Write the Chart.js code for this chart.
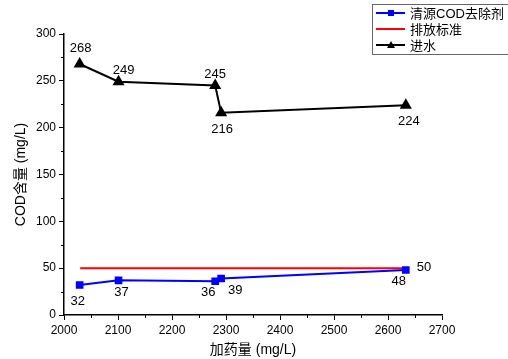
<!DOCTYPE html>
<html><head><meta charset="utf-8">
<script src="https://cdn.jsdelivr.net/npm/chart.js@4/dist/chart.umd.min.js"></script>
<style>html,body{margin:0;padding:0;background:#fff}#w{width:508px;height:359px}</style>
</head><body><div id="w"><canvas id="c"></canvas></div>
<script>
const dosage = [2029, 2101, 2280, 2291, 2633];
const influent = [268, 249, 245, 216, 224];
const removal = [32, 37, 36, 39, 48];
const standardX = [2030, 2635];
const standardY = [50, 50];
const xTicks = [2000, 2100, 2200, 2300, 2400, 2500, 2600, 2700];
const yTicks = [0, 50, 100, 150, 200, 250, 300];
const seriesNames = ['清源COD去除剂', '排放标准', '进水'];

const FONT = '"Liberation Sans", Arial, "Noto Sans CJK SC", sans-serif';
const CJK = '"Liberation Sans", "Noto Sans CJK SC", sans-serif';

// label offsets (dx, dy) per point, styling only
const labelOffsets = [
  [[-2,16],[3,12],[-7,11],[14,12],[-7,11]],
  [null,[17,-1]],
  [[1,-16],[5,-11],[0,-11],[1,17],[3,16]]
];

const pts = (xs, ys) => xs.map((x,i)=>({x, y: ys[i]}));

const minorTicks = {
  id:'minorTicks',
  afterDraw(chart){
    const ctx=chart.ctx, xs=chart.scales.x, ys=chart.scales.y;
    ctx.save(); ctx.strokeStyle='#000'; ctx.lineWidth=1;
    for(let i=0;i<xTicks.length-1;i++){
      const v=(xTicks[i]+xTicks[i+1])/2, p=Math.round(xs.getPixelForValue(v))+0.5;
      ctx.beginPath(); ctx.moveTo(p, ys.bottom); ctx.lineTo(p, ys.bottom+3); ctx.stroke();
    }
    for(let i=0;i<yTicks.length-1;i++){
      const v=(yTicks[i]+yTicks[i+1])/2, p=Math.round(ys.getPixelForValue(v))+0.5;
      ctx.beginPath(); ctx.moveTo(xs.left, p); ctx.lineTo(xs.left-3, p); ctx.stroke();
    }
    ctx.restore();
  }
};

const valueLabels = {
  id:'valueLabels',
  afterDatasetsDraw(chart){
    const ctx=chart.ctx;
    ctx.save(); ctx.fillStyle='#000'; ctx.font='13px '+FONT;
    ctx.textAlign='center'; ctx.textBaseline='middle';
    chart.data.datasets.forEach((ds,di)=>{
      const meta=chart.getDatasetMeta(di);
      meta.data.forEach((el,i)=>{
        const off=labelOffsets[di][i]; if(!off) return;
        ctx.fillText(String(ds.data[i].y), el.x+off[0], el.y+off[1]);
      });
    });
    ctx.restore();
  }
};

const customLegend = {
  id:'customLegend',
  afterDraw(chart){
    const ctx=chart.ctx;
    const x0=372, y0=4, w=140, h=50;
    ctx.save();
    ctx.strokeStyle='#666'; ctx.lineWidth=1;
    ctx.strokeRect(x0+0.5,y0+0.5,w,h);
    ctx.font='13px '+CJK; ctx.textBaseline='middle'; ctx.textAlign='left';
    chart.data.datasets.forEach((ds,i)=>{
      const y=y0+9+i*16;
      ctx.strokeStyle=ds.borderColor; ctx.lineWidth=2;
      ctx.beginPath(); ctx.moveTo(x0+4,y); ctx.lineTo(x0+33,y); ctx.stroke();
      ctx.fillStyle=ds.borderColor;
      if(ds.pointStyle==='rect'){ ctx.fillRect(x0+16,y-3,6,6); }
      else if(ds.pointStyle==='triangle'){
        ctx.beginPath(); ctx.moveTo(x0+19,y-4); ctx.lineTo(x0+23,y+3); ctx.lineTo(x0+15,y+3); ctx.closePath(); ctx.fill();
      }
      ctx.fillStyle='#000';
      ctx.fillText(ds.label, x0+38, y+1);
    });
    ctx.restore();
  }
};

new Chart(document.getElementById('c'), {
  type:'line',
  data:{datasets:[
    {label:seriesNames[0], data:pts(dosage, removal), borderColor:'#0000ff', backgroundColor:'#0000ff',
     borderWidth:2, pointStyle:'rect', pointRadius:4, pointHoverRadius:4},
    {label:seriesNames[1], data:pts(standardX, standardY), borderColor:'#ff0000', backgroundColor:'#ff0000',
     borderWidth:2, pointRadius:0, pointStyle:'line'},
    {label:seriesNames[2], data:pts(dosage, influent), borderColor:'#000000', backgroundColor:'#000000',
     borderWidth:2, pointStyle:'triangle', pointRadius:5, pointHoverRadius:5}
  ]},
  options:{
    responsive:true, maintainAspectRatio:false, animation:false,
    layout:{padding:{top:34, right:66, left:0, bottom:0}},
    plugins:{legend:{display:false}, tooltip:{enabled:false}},
    scales:{
      x:{type:'linear', min:2000, max:2700,
        afterBuildTicks:s=>{s.ticks=xTicks.map(v=>({value:v}));},
        afterFit:s=>{s.height=44;},
        ticks:{color:'#000', font:{family:FONT, size:12}, padding:3, maxRotation:0, callback:v=>String(v)},
        grid:{drawOnChartArea:false, drawTicks:true, tickLength:5, color:'#000'},
        border:{display:true, color:'#000', width:1.5},
        title:{display:true, text:'加药量 (mg/L)', color:'#000', font:{family:CJK, size:14}, padding:{top:4, bottom:0}}
      },
      y:{type:'linear', min:0, max:300,
        afterBuildTicks:s=>{s.ticks=yTicks.map(v=>({value:v}));},
        afterFit:s=>{s.width=64;},
        ticks:{color:'#000', font:{family:FONT, size:12}, padding:3, callback:v=>String(v)},
        grid:{drawOnChartArea:false, drawTicks:true, tickLength:5, color:'#000'},
        border:{display:true, color:'#000', width:1.5},
        title:{display:true, text:'COD含量 (mg/L)', color:'#000', font:{family:CJK, size:14}, padding:{top:13, bottom:2}}
      }
    }
  },
  plugins:[minorTicks, valueLabels, customLegend]
});
</script></body></html>
